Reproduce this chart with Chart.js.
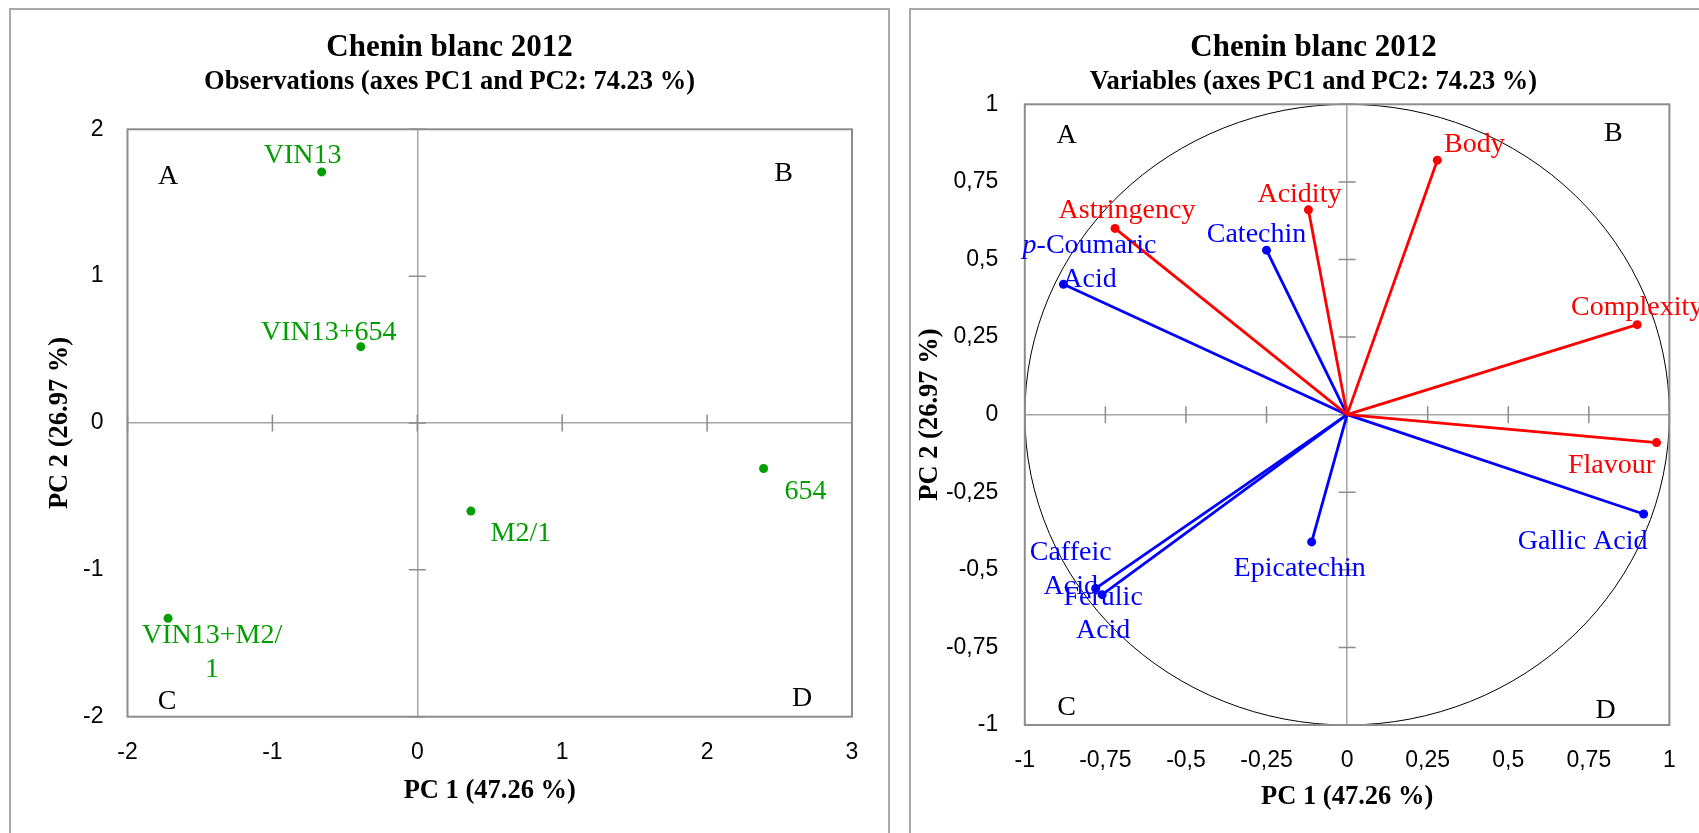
<!DOCTYPE html>
<html>
<head>
<meta charset="utf-8">
<script src="https://cdn.jsdelivr.net/npm/chart.js@4.4.1/dist/chart.umd.min.js"></script>
<style>
  html, body { margin: 0; padding: 0; background: #fff; overflow: hidden; }
  body { width: 1699px; height: 833px; position: relative; }
  .panel { position: absolute; top: 8px; height: 900px; border: 2px solid #a9a9a9; box-sizing: border-box; }
  #leftPanel { left: 9px; width: 881px; }
  #rightPanel { left: 909px; width: 900px; }
  canvas { position: absolute; top: 0; }
  #obsChart { left: 0; }
  #varChart { left: 900px; }
</style>
</head>
<body>
<div class="panel" id="leftPanel"></div>
<div class="panel" id="rightPanel"></div>
<canvas id="obsChart" width="900" height="833"></canvas>
<canvas id="varChart" width="827" height="833"></canvas>
<script>
const chartTitle = "Chenin blanc 2012";
const obsSubtitle = "Observations (axes PC1 and PC2: 74.23 %)";
const varSubtitle = "Variables (axes PC1 and PC2: 74.23 %)";
const xAxisTitle = "PC 1 (47.26 %)";
const yAxisTitle = "PC 2 (26.97 %)";
const quadrants = ["A", "B", "C", "D"];

// observations (scores on PC1 / PC2)
const obsNames = ["VIN13", "VIN13+654", "654", "M2/1", "VIN13+M2/1"];
const obsPC1 = [-0.66, -0.39, 2.39, 0.37, -1.72];
const obsPC2 = [1.71, 0.52, -0.31, -0.60, -1.33];
const obsXTicks = ["-2", "-1", "0", "1", "2", "3"];
const obsYTicks = ["-2", "-1", "0", "1", "2"];

// variables (loadings on PC1 / PC2)
const varNames = ["Body", "Acidity", "Astringency", "Catechin", "p-Coumaric Acid", "Complexity",
                  "Flavour", "Gallic Acid", "Epicatechin", "Caffeic Acid", "Ferulic Acid"];
const varPC1 = [0.28, -0.12, -0.72, -0.25, -0.88, 0.90, 0.96, 0.92, -0.11, -0.78, -0.76];
const varPC2 = [0.82, 0.66, 0.60, 0.53, 0.42, 0.29, -0.09, -0.32, -0.41, -0.56, -0.58];
const varKind = ["sensory", "sensory", "sensory", "phenolic", "phenolic", "sensory",
                 "sensory", "phenolic", "phenolic", "phenolic", "phenolic"];
const varTicks = ["-1", "-0,75", "-0,5", "-0,25", "0", "0,25", "0,5", "0,75", "1"];

const serif = "'Liberation Serif', 'Times New Roman', serif";
const sans = "'Liberation Sans', Arial, sans-serif";
const green = "#009e00";
const kindColor = { sensory: "#ff0000", phenolic: "#0000ff" };

// label layout: wrapped lines and pixel offset (centre, first baseline) from the marker
const obsLabelLines = [["VIN13"], ["VIN13+654"], ["654"], ["M2/1"], ["VIN13+M2/", "1"]];
const obsLabelOffset = [[-19, -9], [-32, -7], [42, 30], [50, 30], [44, 25]];
const varLabelLines = [["Body"], ["Acidity"], ["Astringency"], ["Catechin"], ["p-Coumaric", "Acid"], ["Complexity"],
                       ["Flavour"], ["Gallic Acid"], ["Epicatechin"], ["Caffeic", "Acid"], ["Ferulic", "Acid"]];
const varLabelOffset = [[37, -8], [-9, -8], [12, -10], [-10, -8], [26, -31], [0, -10],
                        [-45, 30], [-61, 35], [-12, 34], [-25, -28], [1, 10]];

function drawLabelLine(ctx, text, cx, y) {
  if (text.startsWith("p-")) {
    const base = ctx.font;
    const ital = "italic " + base;
    ctx.font = ital;
    const w1 = ctx.measureText("p").width;
    ctx.font = base;
    const rest = text.slice(1);
    const w2 = ctx.measureText(rest).width;
    const x0 = cx - (w1 + w2) / 2;
    ctx.textAlign = "left";
    ctx.font = ital;
    ctx.fillText("p", x0, y);
    ctx.font = base;
    ctx.fillText(rest, x0 + w1, y);
    ctx.textAlign = "center";
  } else {
    ctx.fillText(text, cx, y);
  }
}

function makeDecor(cfg) {
  return {
    id: "pcaDecor",
    beforeDatasetsDraw(chart) {
      const { ctx, chartArea: a, scales: { x, y } } = chart;
      const x0 = x.getPixelForValue(0);
      const y0 = y.getPixelForValue(0);
      ctx.save();
      if (cfg.circle) {
        ctx.beginPath();
        ctx.ellipse(x0, y0, x.getPixelForValue(1) - x0, y0 - y.getPixelForValue(1), 0, 0, Math.PI * 2);
        ctx.strokeStyle = "#000";
        ctx.lineWidth = 1;
        ctx.stroke();
      }
      // tick marks crossing the zero lines
      ctx.strokeStyle = "#8c8c8c";
      ctx.lineWidth = 1.5;
      ctx.beginPath();
      x.ticks.forEach(t => {
        const px = x.getPixelForValue(t.value);
        ctx.moveTo(px, y0 - 8.5);
        ctx.lineTo(px, y0 + 8.5);
      });
      y.ticks.forEach(t => {
        const py = y.getPixelForValue(t.value);
        ctx.moveTo(x0 - 8.5, py);
        ctx.lineTo(x0 + 8.5, py);
      });
      ctx.stroke();
      ctx.lineWidth = 2;
      ctx.strokeRect(a.left, a.top, a.right - a.left, a.bottom - a.top);
      // quadrant letters
      const q = cfg.quadrantPos;
      const pos = [
        [a.left + q[0][0], a.top + q[0][1]],
        [a.right - q[1][0], a.top + q[1][1]],
        [a.left + q[2][0], a.bottom - q[2][1]],
        [a.right - q[3][0], a.bottom - q[3][1]]
      ];
      ctx.fillStyle = "#000";
      ctx.font = "28px " + serif;
      ctx.textAlign = "center";
      quadrants.forEach((l, i) => ctx.fillText(l, pos[i][0], pos[i][1]));
      ctx.restore();
    },
    afterDatasetsDraw(chart) {
      const ctx = chart.ctx;
      ctx.save();
      ctx.font = "28px " + serif;
      ctx.textAlign = "center";
      ctx.textBaseline = "alphabetic";
      cfg.lines.forEach((lines, i) => {
        const el = cfg.anchor(chart, i);
        ctx.fillStyle = cfg.color(i);
        const [dx, dy] = cfg.offsets[i];
        lines.forEach((line, k) => drawLabelLine(ctx, line, el.x + dx, el.y + dy + k * 33.5));
      });
      ctx.restore();
    }
  };
}

function axisOptions(o) {
  return {
    type: "linear",
    position: o.position,
    min: o.min,
    max: o.max,
    afterFit: s => { if (o.position === "bottom") s.height = o.size; else s.width = o.size; },
    ticks: {
      stepSize: o.step,
      padding: o.tickPad,
      color: "#000",
      font: { family: sans, size: 23 },
      callback: (v, i) => o.labels[i]
    },
    grid: {
      drawTicks: false,
      lineWidth: 1.5,
      color: c => (c.tick && c.tick.value === 0 ? "#a6a6a6" : "rgba(0,0,0,0)")
    },
    border: { display: false },
    title: {
      display: true,
      text: o.title,
      color: "#000",
      font: { family: serif, size: 26.5, weight: "bold", lineHeight: 1.2 },
      padding: o.titlePad
    }
  };
}

function spacerAxis(w) {
  return {
    type: "linear",
    position: "right",
    afterFit: s => { s.width = w; },
    ticks: { display: false },
    grid: { display: false },
    border: { display: false }
  };
}

function titleOptions(sub, subPadBottom) {
  return {
    title: {
      display: true, text: chartTitle, color: "#000",
      font: { family: serif, size: 31, weight: "bold", lineHeight: 1.2 },
      padding: { top: 19, bottom: 0 }
    },
    subtitle: {
      display: true, text: sub, color: "#000",
      font: { family: serif, size: 26.5, weight: "bold", lineHeight: 1.2 },
      padding: { top: 0, bottom: subPadBottom }
    },
    legend: { display: false },
    tooltip: { enabled: false }
  };
}

// left: observations
new Chart(document.getElementById("obsChart"), {
  type: "scatter",
  data: {
    datasets: [{
      label: "Observations",
      data: obsPC1.map((v, i) => ({ x: v, y: obsPC2[i] })),
      backgroundColor: green,
      borderWidth: 0,
      pointRadius: 4.5
    }]
  },
  options: {
    responsive: false,
    animation: false,
    layout: { padding: { left: 10, right: 11, top: 10, bottom: 0 } },
    plugins: titleOptions(obsSubtitle, 31.3),
    scales: {
      x: axisOptions({ position: "bottom", min: -2, max: 3, step: 1, labels: obsXTicks, size: 116.3,
                       tickPad: 22, title: xAxisTitle, titlePad: { top: 0, bottom: 26 } }),
      y: axisOptions({ position: "left", min: -2, max: 2, step: 1, labels: obsYTicks, size: 117.5,
                       tickPad: 24, title: yAxisTitle, titlePad: { top: 34, bottom: 0 } }),
      pad: spacerAxis(37)
    }
  },
  plugins: [makeDecor({
    circle: false,
    quadrantPos: [[40.7, 54.7], [68.4, 52], [39.5, 7.4], [50, 10.7]],
    lines: obsLabelLines,
    offsets: obsLabelOffset,
    color: () => green,
    anchor: (chart, i) => chart.getDatasetMeta(0).data[i]
  })]
});

// right: variables
new Chart(document.getElementById("varChart"), {
  type: "scatter",
  data: {
    datasets: varNames.map((name, i) => ({
      label: name,
      data: [{ x: 0, y: 0 }, { x: varPC1[i], y: varPC2[i] }],
      showLine: true,
      borderColor: kindColor[varKind[i]],
      backgroundColor: kindColor[varKind[i]],
      borderWidth: 2.8,
      pointRadius: [0, 4.5],
      pointBorderWidth: 0
    }))
  },
  options: {
    responsive: false,
    animation: false,
    layout: { padding: { left: 10, right: 10, top: 10, bottom: 0 } },
    plugins: titleOptions(varSubtitle, 6.3),
    scales: {
      x: axisOptions({ position: "bottom", min: -1, max: 1, step: 0.25, labels: varTicks, size: 108,
                       tickPad: 22, title: xAxisTitle, titlePad: { top: 0, bottom: 20 } }),
      y: axisOptions({ position: "left", min: -1, max: 1, step: 0.25, labels: varTicks, size: 114.8,
                       tickPad: 26.5, title: yAxisTitle, titlePad: { top: 4.7, bottom: 0 } }),
      pad: spacerAxis(47.6)
    }
  },
  plugins: [makeDecor({
    circle: true,
    quadrantPos: [[41.8, 39], [56, 36.4], [41.8, 10], [63.7, 6.7]],
    lines: varLabelLines,
    offsets: varLabelOffset,
    color: i => kindColor[varKind[i]],
    anchor: (chart, i) => chart.getDatasetMeta(i).data[1]
  })]
});
</script>
</body>
</html>
